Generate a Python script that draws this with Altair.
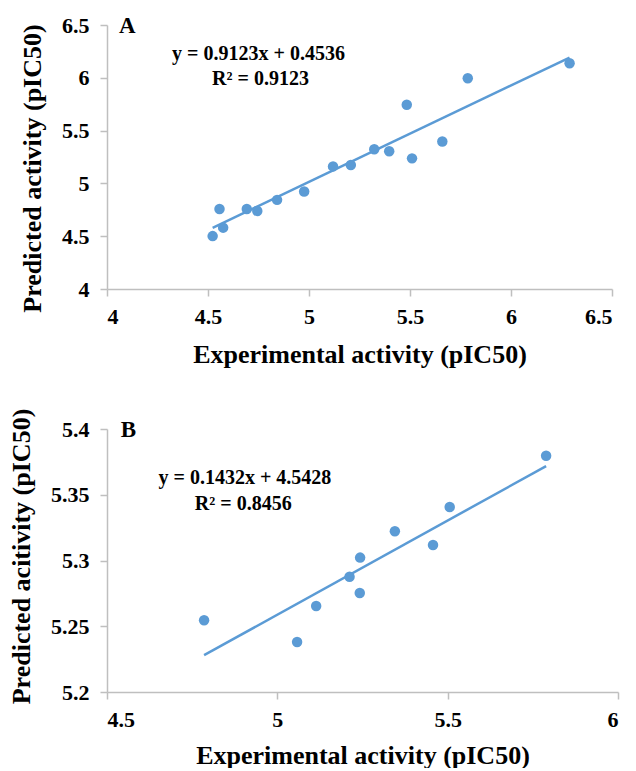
import altair as alt
import pandas as pd

# Panel A data (training set)
a_exp = [4.523, 4.557, 4.575, 4.692, 4.744, 4.842, 4.976, 5.119, 5.207, 5.323,
         5.397, 5.484, 5.510, 5.660, 5.786, 6.290]
a_pred = [4.501, 4.758, 4.581, 4.758, 4.739, 4.844, 4.923, 5.161, 5.174, 5.323,
          5.304, 5.745, 5.237, 5.396, 5.996, 6.138]
a_slope, a_intercept = 0.9123, 0.4536
a_eq = "y = 0.9123x + 0.4536"
a_r2 = "R² = 0.9123"

# Panel B data (test set)
b_exp = [4.785, 5.058, 5.114, 5.212, 5.242, 5.243, 5.345, 5.457, 5.506, 5.789]
b_pred = [5.2545, 5.238, 5.2654, 5.2877, 5.2753, 5.3022, 5.3222, 5.3118, 5.3407, 5.3797]
b_slope, b_intercept = 0.1432, 4.5428
b_eq = "y = 0.1432x + 4.5428"
b_r2 = "R² = 0.8456"

a_xticks = [4, 4.5, 5, 5.5, 6, 6.5]
a_yticks = [4, 4.5, 5, 5.5, 6, 6.5]
b_xticks = [4.5, 5, 5.5, 6]
b_yticks = [5.2, 5.25, 5.3, 5.35, 5.4]

BLUE = "#5B9BD5"
FONT = "Liberation Serif"


def panel(exp, pred, slope, intercept, xdom, ydom, xticks, yticks, ytitle, ytitle_y,
          xtitle_pad, letter, letter_xy, eq, eq_xy, r2, r2_xy, w, h):
    df = pd.DataFrame({"exp": exp, "pred": pred})
    xmin, xmax = min(exp), max(exp)
    trend = pd.DataFrame({"exp": [xmin, xmax],
                          "pred": [slope * xmin + intercept, slope * xmax + intercept]})
    x = alt.X("exp:Q", scale=alt.Scale(domain=xdom, nice=False, zero=False),
              axis=alt.Axis(values=xticks, format="~f",
                            labelFont=FONT, titleFont=FONT, titlePadding=xtitle_pad,
                            title="Experimental activity (pIC50)"))
    y = alt.Y("pred:Q", scale=alt.Scale(domain=ydom, nice=False, zero=False),
              axis=alt.Axis(values=yticks, format="~f", labelFont=FONT, titleFont=FONT,
                            titleY=ytitle_y, title=ytitle))
    line = alt.Chart(trend).mark_line(color=BLUE, strokeWidth=2.5).encode(x=x, y=y)
    pts = alt.Chart(df).mark_circle(size=110, color=BLUE, opacity=1).encode(x=x, y=y)

    def txt(t, xy, size, align):
        return alt.Chart(pd.DataFrame({"t": [t]})).mark_text(
            font=FONT, fontSize=size, fontWeight="bold", color="black",
            align=align, baseline="middle"
        ).encode(x=alt.datum(xy[0]), y=alt.datum(xy[1]), text="t:N")

    return alt.layer(
        line, pts,
        txt(letter, letter_xy, 23, "left"),
        txt(eq, eq_xy, 20, "center"),
        txt(r2, r2_xy, 20, "center"),
    ).properties(width=w, height=h)


A = panel(a_exp, a_pred, a_slope, a_intercept, [4, 6.5], [4, 6.5], a_xticks, a_yticks,
          "Predicted activity (pIC50)", 143, 14, "A", (4.06, 6.49),
          a_eq, (4.75, 6.225), a_r2, (4.76, 5.985), 505, 264)
B = panel(b_exp, b_pred, b_slope, b_intercept, [4.5, 6], [5.2, 5.4], b_xticks, b_yticks,
          "Predicted acitivity (pIC50)", 127, 12, "B", (4.54, 5.399),
          b_eq, (4.905, 5.3625), b_r2, (4.90, 5.343), 511, 263)

chart = alt.vconcat(A, B, spacing=41).properties(
    padding={"left": 0, "top": 6, "right": 4, "bottom": 0}
).configure(font=FONT).configure_view(stroke=None).configure_axis(
    grid=False,
    domainColor="#BFBFBF",
    domainWidth=1.5,
    tickColor="#BFBFBF",
    tickWidth=1.5,
    tickSize=7,
    labelFont=FONT,
    labelFontSize=22,
    labelFontWeight="bold",
    labelColor="black",
    labelPadding=10,
    titleFont=FONT,
    titleFontSize=26,
    titleFontWeight="bold",
    titleColor="black",
).configure_axisY(titlePadding=16, labelPadding=11)

chart.save("out.html", embed_options={"renderer": "svg", "actions": False})
